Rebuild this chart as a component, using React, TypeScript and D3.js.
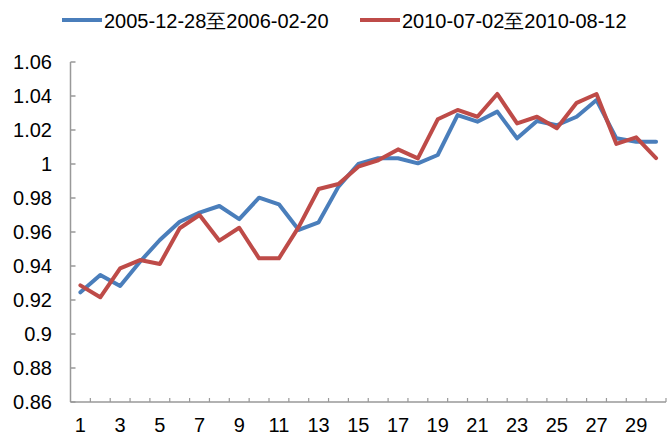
import React from 'react';
import * as d3 from 'd3';

const categories: number[] = Array.from({ length: 30 }, (_, i) => i + 1);
const seriesNames = ['2005-12-28至2006-02-20', '2010-07-02至2010-08-12'];
const seriesA: number[] = [
  0.9245, 0.9347, 0.9282, 0.9425, 0.9553, 0.966, 0.9714, 0.9753, 0.9676, 0.9802,
  0.9763, 0.9612, 0.9657, 0.9867, 1.0, 1.0034, 1.0034, 1.0004, 1.0053, 1.0288,
  1.0249, 1.0308, 1.0151, 1.0253, 1.0228, 1.0278, 1.0376, 1.0151, 1.0131, 1.0131,
];
const seriesB: number[] = [
  0.9286, 0.9216, 0.9386, 0.9435, 0.9412, 0.9622, 0.97, 0.9549, 0.9625, 0.9445,
  0.9445, 0.963, 0.9853, 0.9882, 0.9984, 1.0022, 1.0086, 1.0033, 1.0263, 1.0318,
  1.0278, 1.0412, 1.0239, 1.0278, 1.021, 1.036, 1.0412, 1.0118, 1.0157, 1.0035,
];
const yTicks: number[] = [0.86, 0.88, 0.9, 0.92, 0.94, 0.96, 0.98, 1.0, 1.02, 1.04, 1.06];
const xTickLabels: number[] = categories.filter((c) => c % 2 === 1);
const colors = ['#4A7EBB', '#BE4B48'];

export default function App() {
  const W = 672, H = 444;
  const left = 70.5, right = 666, top = 62, bottom = 402;
  const x = d3.scaleBand<number>().domain(categories).range([left, right]);
  const y = d3.scaleLinear().domain([0.86, 1.06]).range([bottom, top]);
  const line = d3
    .line<number>()
    .x((_, i) => (x(categories[i]) as number) + x.bandwidth() / 2)
    .y((d) => y(d));
  const font = '"Liberation Sans", Arial, sans-serif';
  const axisColor = '#999999';
  const boundaries = categories.map((c) => (x(c) as number) + x.bandwidth());
  return (
    <svg width={W} height={H} style={{ position: 'absolute', left: 0, top: 0, background: '#fff' }}>
      {/* legend */}
      {seriesNames.map((name, i) => {
        const lx = i === 0 ? 62 : 360;
        return (
          <g key={name}>
            <line x1={lx} x2={lx + 40} y1={20} y2={20} stroke={colors[i]} strokeWidth={4} />
            <text x={lx + 42} y={27.5} fontFamily={font} fontSize={20} fill="#000">
              {name}
            </text>
          </g>
        );
      })}
      {/* y axis */}
      <line x1={left} x2={left} y1={top} y2={bottom} stroke={axisColor} strokeWidth={1.5} />
      {yTicks.map((t) => (
        <g key={t}>
          <line x1={left} x2={left + 5} y1={y(t)} y2={y(t)} stroke={axisColor} strokeWidth={1.5} />
          <text x={52} y={y(t) + 7} textAnchor="end" fontFamily={font} fontSize={20} fill="#000">
            {d3.format('~g')(t)}
          </text>
        </g>
      ))}
      {/* x axis */}
      <line x1={left} x2={right} y1={bottom} y2={bottom} stroke={axisColor} strokeWidth={1.5} />
      {boundaries.map((bx, i) => (
        <line key={i} x1={bx} x2={bx} y1={bottom} y2={bottom - 4} stroke={axisColor} strokeWidth={1.2} />
      ))}
      {xTickLabels.map((c) => (
        <text
          key={c}
          x={(x(c) as number) + x.bandwidth() / 2}
          y={432}
          textAnchor="middle"
          fontFamily={font}
          fontSize={20}
          fill="#000"
        >
          {c}
        </text>
      ))}
      {/* series */}
      {[seriesA, seriesB].map((s, i) => (
        <path
          key={i}
          d={line(s) || ''}
          fill="none"
          stroke={colors[i]}
          strokeWidth={4}
          strokeLinejoin="round"
          strokeLinecap="round"
        />
      ))}
    </svg>
  );
}
